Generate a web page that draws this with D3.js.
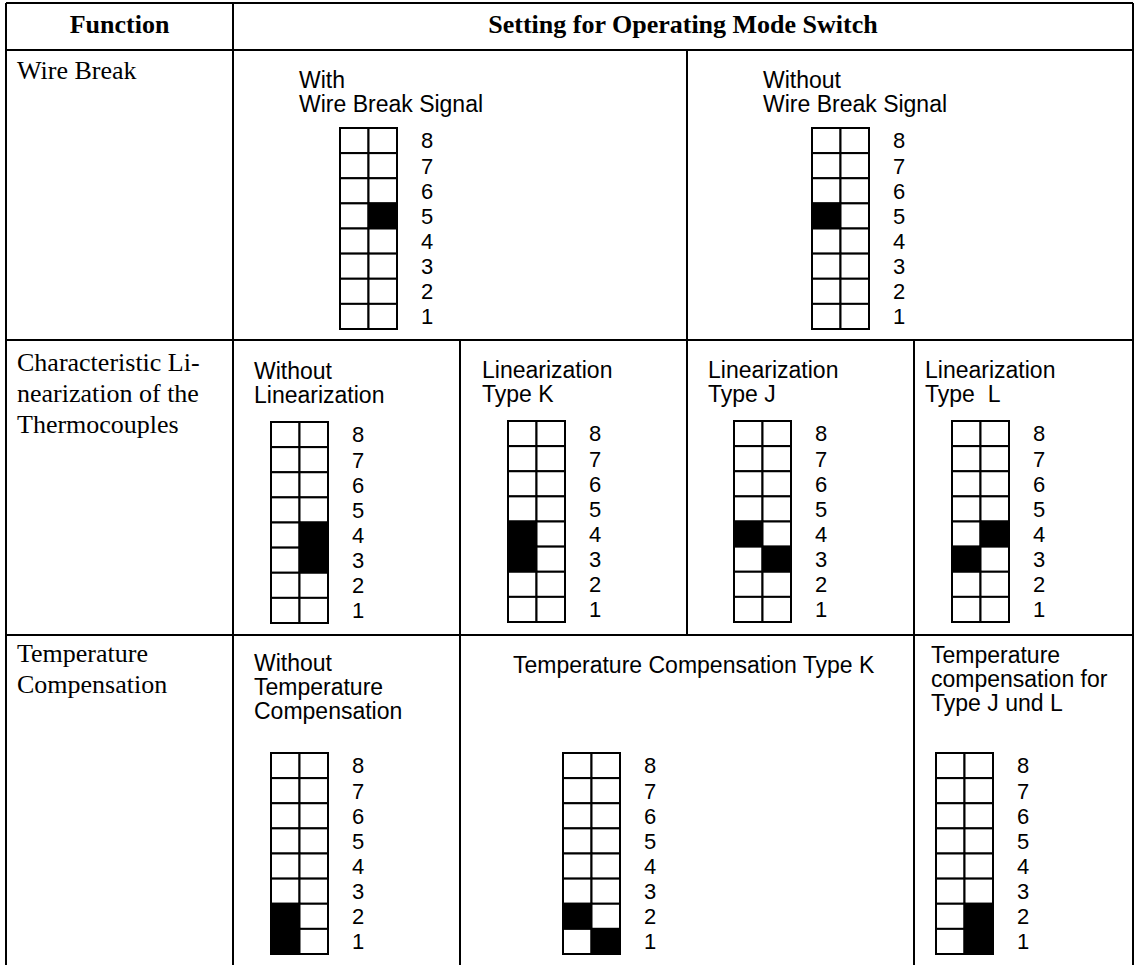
<!DOCTYPE html>
<html><head><meta charset="utf-8">
<script src="https://cdn.jsdelivr.net/npm/d3@7"></script>
<style>body{margin:0;background:#fff}svg{display:block}</style>
</head><body><svg id="c" width="1135" height="965"></svg>
<script>
// ---------- data ----------
const headerLabels = ["Function", "Setting for Operating Mode Switch"];
const functionLines = [
  ["Wire Break"],
  ["Characteristic Li-", "nearization of the", "Thermocouples"],
  ["Temperature", "Compensation"]
];
const switchPositions = [8, 7, 6, 5, 4, 3, 2, 1];
const leverSides = ["L", "R"];
// setting labels (one array per row)
const wireBreakLabels = [["With", "Wire Break Signal"], ["Without", "Wire Break Signal"]];
const linearizationLabels = [["Without", "Linearization"], ["Linearization", "Type K"], ["Linearization", "Type J"], ["Linearization", "Type  L"]];
const compensationLabels = [["Without", "Temperature", "Compensation"], ["Temperature Compensation Type K"], ["Temperature", "compensation for", "Type J und L"]];
// switch states: for positions 1..8, which side is set (black): "L", "R" or ""
const wbWith        = ["", "", "", "", "R", "", "", ""];
const wbWithout     = ["", "", "", "", "L", "", "", ""];
const linNone       = ["", "", "R", "R", "", "", "", ""];
const linTypeK      = ["", "", "L", "L", "", "", "", ""];
const linTypeJ      = ["", "", "R", "L", "", "", "", ""];
const linTypeL      = ["", "", "L", "R", "", "", "", ""];
const compNone      = ["L", "L", "", "", "", "", "", ""];
const compTypeK     = ["R", "L", "", "", "", "", "", ""];
const compTypeJL    = ["R", "R", "", "", "", "", "", ""];

// ---------- layout ----------
const svg = d3.select("#c");
const W = 1135, H = 965;
const X = [6, 233, 460, 687, 914, 1133];
const Y = [3, 50, 340, 635, 965];
const serif = "'Liberation Serif','Times New Roman',serif";
const sans = "'Liberation Sans',Arial,Helvetica,sans-serif";
const LW = 2;

const lines = [
  [X[0], Y[0], X[5], Y[0]], [X[0], Y[1], X[5], Y[1]], [X[0], Y[2], X[5], Y[2]], [X[0], Y[3], X[5], Y[3]],
  [X[0], Y[0], X[0], H], [X[1], Y[0], X[1], H], [X[5], Y[0], X[5], H],
  [X[3], Y[1], X[3], Y[3]], [X[2], Y[2], X[2], H], [X[4], Y[2], X[4], H]
];
svg.append("g").selectAll("line").data(lines).join("line")
  .attr("x1", d => d[0]).attr("y1", d => d[1]).attr("x2", d => d[2]).attr("y2", d => d[3])
  .attr("stroke", "#000").attr("stroke-width", LW);

// header
svg.append("text").text(headerLabels[0]).attr("x", (X[0] + X[1]) / 2).attr("y", 33)
  .attr("text-anchor", "middle").attr("font-family", serif).attr("font-weight", "bold").attr("font-size", 26);
svg.append("text").text(headerLabels[1]).attr("x", (X[1] + X[5]) / 2).attr("y", 33)
  .attr("text-anchor", "middle").attr("font-family", serif).attr("font-weight", "bold").attr("font-size", 26);

// function column
const funcBase = [79, 371, 662];
functionLines.forEach((ls, i) => {
  const t = svg.append("text").attr("font-family", serif).attr("font-size", 26);
  ls.forEach((s, j) => t.append("tspan").attr("x", 17).attr("y", funcBase[i] + j * 31).text(s));
});

// label blocks
function label(lines, x, y, step) {
  const t = svg.append("text").attr("font-family", sans).attr("font-size", 23).attr("xml:space", "preserve");
  lines.forEach((s, j) => t.append("tspan").attr("x", x).attr("y", y + j * step).text(s));
}
label(wireBreakLabels[0], 299, 88, 24);
label(wireBreakLabels[1], 763, 88, 24);
label(linearizationLabels[0], 254, 379, 24);
label(linearizationLabels[1], 482, 378, 24);
label(linearizationLabels[2], 708, 378, 24);
label(linearizationLabels[3], 925, 378, 24);
label(compensationLabels[0], 254, 671, 24);
label(compensationLabels[1], 513, 673, 24);
label(compensationLabels[2], 931, 663, 24);

// switch blocks
const SW = 57, SH = 201;
function drawSwitch(state, x0, y0) {
  const y = d3.scaleBand().domain(switchPositions).range([y0, y0 + SH]);
  const x = d3.scaleBand().domain(leverSides).range([x0, x0 + SW]);
  const cells = [];
  switchPositions.forEach(p => leverSides.forEach(s => cells.push({ p, s, on: state[p - 1] === s })));
  const g = svg.append("g");
  g.selectAll("rect.cell").data(cells).join("rect").attr("class", "cell")
    .attr("x", d => x(d.s)).attr("y", d => y(d.p))
    .attr("width", x.bandwidth()).attr("height", y.bandwidth())
    .attr("fill", d => d.on ? "#000" : "#fff").attr("stroke", "#000").attr("stroke-width", LW);
  g.selectAll("text").data(switchPositions).join("text")
    .attr("x", x0 + SW + 30).attr("y", d => y(d) + y.bandwidth() / 2).attr("dy", "0.36em")
    .attr("text-anchor", "middle").attr("font-family", sans).attr("font-size", 22)
    .text(d => d);
}
drawSwitch(wbWith, 340, 128);
drawSwitch(wbWithout, 812, 128);
drawSwitch(linNone, 271, 422);
drawSwitch(linTypeK, 508, 421);
drawSwitch(linTypeJ, 734, 421);
drawSwitch(linTypeL, 952, 421);
drawSwitch(compNone, 271, 753);
drawSwitch(compTypeK, 563, 753);
drawSwitch(compTypeJL, 936, 753);
</script>
</body></html>
